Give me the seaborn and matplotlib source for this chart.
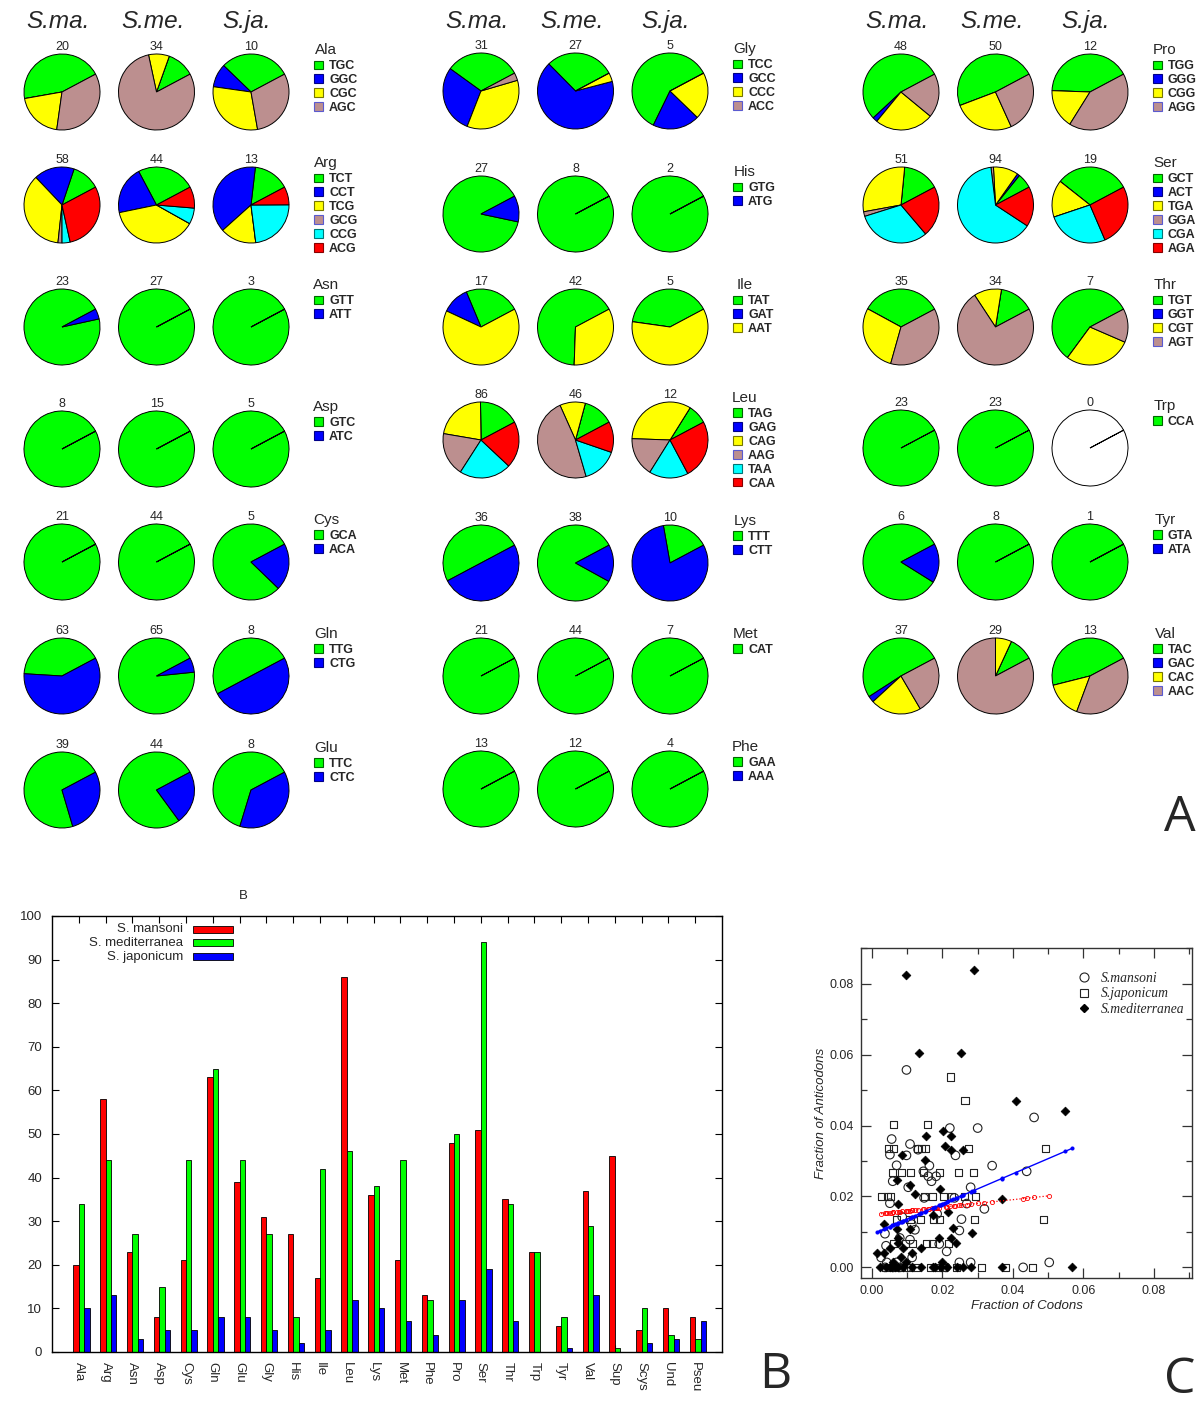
import numpy as np
import pandas as pd
import seaborn as sns
import matplotlib.pyplot as plt
from matplotlib.patches import Rectangle
from matplotlib.lines import Line2D
from matplotlib.ticker import FormatStrFormatter, MultipleLocator

sns.set_theme(style='white')
plt.rcParams['font.family'] = ['Liberation Sans', 'DejaVu Sans']

W, H = 1200, 1418

# ---------------- data ----------------
amino_acids = ['Ala', 'Arg', 'Asn', 'Asp', 'Cys', 'Gln', 'Glu',
               'Gly', 'His', 'Ile', 'Leu', 'Lys', 'Met', 'Phe',
               'Pro', 'Ser', 'Thr', 'Trp', 'Tyr', 'Val']
anticodons = [
    ['TGC', 'GGC', 'CGC', 'AGC'], ['TCT', 'CCT', 'TCG', 'GCG', 'CCG', 'ACG'],
    ['GTT', 'ATT'], ['GTC', 'ATC'], ['GCA', 'ACA'], ['TTG', 'CTG'], ['TTC', 'CTC'],
    ['TCC', 'GCC', 'CCC', 'ACC'], ['GTG', 'ATG'], ['TAT', 'GAT', 'AAT'],
    ['TAG', 'GAG', 'CAG', 'AAG', 'TAA', 'CAA'], ['TTT', 'CTT'], ['CAT'], ['GAA', 'AAA'],
    ['TGG', 'GGG', 'CGG', 'AGG'], ['GCT', 'ACT', 'TGA', 'GGA', 'CGA', 'AGA'],
    ['TGT', 'GGT', 'CGT', 'AGT'], ['CCA'], ['GTA', 'ATA'], ['TAC', 'GAC', 'CAC', 'AAC'],
]
sma_counts = [[9, 0, 4, 7], [7, 10, 21, 1, 2, 17], [22, 1], [8, 0], [21, 0], [26, 37], [28, 11],
              [10, 9, 11, 1], [24, 3], [4, 2, 11], [15, 0, 19, 16, 19, 17], [18, 18], [21], [13, 0],
              [26, 1, 12, 9], [8, 0, 15, 1, 16, 11], [12, 0, 10, 13], [23], [5, 1], [19, 1, 8, 9]]
sme_counts = [[4, 0, 3, 27], [11, 9, 17, 0, 3, 4], [27, 0], [15, 0], [44, 0], [61, 4], [34, 10],
              [8, 18, 1, 0], [8, 0], [28, 0, 14], [6, 0, 5, 22, 7, 6], [32, 6], [44], [12, 0],
              [24, 0, 13, 13], [6, 1, 10, 1, 60, 16], [5, 0, 4, 25], [23], [8, 0], [3, 0, 2, 24]]
sja_counts = [[3, 1, 3, 3], [2, 5, 2, 0, 3, 1], [3, 0], [5, 0], [4, 1], [4, 4], [5, 3],
              [3, 1, 1, 0], [2, 0], [2, 0, 3], [1, 0, 4, 2, 2, 3], [2, 8], [7], [4, 0],
              [5, 0, 2, 5], [6, 0, 3, 0, 5, 5], [4, 0, 2, 1], [0], [1, 0], [6, 0, 2, 5]]

extra_cats = ['Sup', 'Scys', 'Und', 'Pseu']
extra_sma = [45, 5, 10, 8]
extra_sme = [1, 10, 4, 3]
extra_sja = [0, 2, 3, 7]

species_full = ['S. mansoni', 'S. mediterranea', 'S. japonicum']
species_short = ['S.ma.', 'S.me.', 'S.ja.']

# panel C: fraction of codons vs fraction of anticodons
sma_x = [0.0098, 0.0460, 0.0221, 0.0300, 0.0056, 0.0108, 0.0131, 0.0051, 0.0098, 0.0237,
         0.0070, 0.0163, 0.0341, 0.0439, 0.0146, 0.0160, 0.0182, 0.0059, 0.0169, 0.0103,
         0.0280, 0.0051, 0.0148, 0.0234, 0.0269, 0.0319, 0.0185, 0.0086, 0.0254, 0.0113,
         0.0122, 0.0248, 0.0037, 0.0079, 0.0108, 0.0191, 0.0212, 0.0040, 0.0026, 0.0114,
         0.0042, 0.0070, 0.0248, 0.0280, 0.0503, 0.0037, 0.0060, 0.0078, 0.0100, 0.0210,
         0.0429]
sma_y = [0.0557, 0.0423, 0.0393, 0.0393, 0.0362, 0.0348, 0.0332, 0.0318, 0.0316, 0.0316,
         0.0288, 0.0287, 0.0287, 0.0271, 0.0271, 0.0257, 0.0257, 0.0243, 0.0243, 0.0226,
         0.0226, 0.0181, 0.0196, 0.0196, 0.0180, 0.0165, 0.0151, 0.0142, 0.0136, 0.0122,
         0.0106, 0.0104, 0.0095, 0.0083, 0.0078, 0.0066, 0.0045, 0.0061, 0.0028, 0.0028,
         0.0014, 0.0014, 0.0014, 0.0014, 0.0014, 0.0, 0.0, 0.0, 0.0, 0.0,
         0.0]
sja_x = [0.0223, 0.0264, 0.0061, 0.0157, 0.0493, 0.0046, 0.0062, 0.0129, 0.0140, 0.0152,
         0.0275, 0.0058, 0.0084, 0.0110, 0.0146, 0.0191, 0.0245, 0.0289, 0.0027, 0.0043,
         0.0053, 0.0150, 0.0172, 0.0204, 0.0226, 0.0262, 0.0294, 0.0070, 0.0108, 0.0138,
         0.0174, 0.0191, 0.0292, 0.0486, 0.0061, 0.0094, 0.0114, 0.0155, 0.0172, 0.0217,
         0.0040, 0.0060, 0.0084, 0.0110, 0.0125, 0.0165, 0.0185, 0.0200, 0.0240, 0.0310,
         0.0378, 0.0455]
sja_y = [0.0537, 0.0470, 0.0403, 0.0403, 0.0336, 0.0336, 0.0336, 0.0336, 0.0336, 0.0336,
         0.0336, 0.0268, 0.0268, 0.0268, 0.0268, 0.0268, 0.0268, 0.0268, 0.0200, 0.0200,
         0.0200, 0.0200, 0.0200, 0.0200, 0.0200, 0.0200, 0.0200, 0.0134, 0.0134, 0.0134,
         0.0134, 0.0134, 0.0134, 0.0134, 0.0067, 0.0067, 0.0067, 0.0067, 0.0067, 0.0067,
         0.0, 0.0, 0.0, 0.0, 0.0, 0.0, 0.0, 0.0, 0.0, 0.0,
         0.0, 0.0]
sme_x = [0.0096, 0.0289, 0.0133, 0.0254, 0.0408, 0.0549, 0.0202, 0.0224, 0.0152, 0.0207,
         0.0224, 0.0257, 0.0084, 0.0150, 0.0070, 0.0108, 0.0122, 0.0193, 0.0073, 0.0368,
         0.0217, 0.0174, 0.0035, 0.0070, 0.0108, 0.0231, 0.0283, 0.0191, 0.0075, 0.0224,
         0.0238, 0.0138, 0.0051, 0.0015, 0.0035, 0.0073, 0.0089, 0.0113, 0.0082, 0.0096,
         0.0061, 0.0198, 0.0022, 0.0040, 0.0050, 0.0058, 0.0066, 0.0075, 0.0088, 0.0115,
         0.0140, 0.0172, 0.0180, 0.0195, 0.0212, 0.0240, 0.0258, 0.0282, 0.0370, 0.0568]
sme_y = [0.0825, 0.0838, 0.0604, 0.0604, 0.0468, 0.0440, 0.0385, 0.0371, 0.0371, 0.0343,
         0.0330, 0.0330, 0.0316, 0.0302, 0.0247, 0.0233, 0.0207, 0.0221, 0.0180, 0.0193,
         0.0155, 0.0149, 0.0123, 0.0109, 0.0109, 0.0111, 0.0097, 0.0083, 0.0083, 0.0083,
         0.0069, 0.0055, 0.0055, 0.0040, 0.0040, 0.0069, 0.0055, 0.0040, 0.0028, 0.0014,
         0.0014, 0.0014, 0.0, 0.0, 0.0, 0.0, 0.0, 0.0, 0.0, 0.0,
         0.0, 0.0, 0.0, 0.0, 0.0, 0.0, 0.0, 0.0, 0.0, 0.0]
# linear fits (slope, intercept) shown in panel C
sma_fit = (0.106, 0.01486)
sme_fit = (0.4265, 0.00935)

# ---------------- style ----------------
slice_colors = ['#00ff00', '#0000ff', '#ffff00', '#bc8f8f', '#00ffff', '#ff0000']
key_edges = ['#006600', '#000088', '#777700', '#5a5ad0', '#007777', '#880000']
bar_colors = ['#ff0000', '#00ff00', '#0000ff']

fig = plt.figure(figsize=(W / 100, H / 100), dpi=100)

# ---------------- panel A: pies ----------------
ax_a = fig.add_axes([0, 1 - 850 / H, 1, 850 / H])
col_x = [62, 481, 901]
col_rows = [[92, 205, 327, 449, 562, 676, 790],
            [91, 214, 327, 440, 563, 676, 789],
            [92, 205, 327, 448, 562, 676]]
pie_dx = 94.5
radius = 38

aa_idx = 0
for x0, rows in zip(col_x, col_rows):
    for s, name in enumerate(species_short):
        ax_a.text(x0 + s * pie_dx - 4, 28, name, style='italic', fontsize=17.5,
                  ha='center', va='baseline')
    for y0 in rows:
        i = aa_idx
        aa_idx += 1
        for s, counts in enumerate([sma_counts[i], sme_counts[i], sja_counts[i]]):
            cx = x0 + s * pie_dx
            total = sum(counts)
            vals = counts if total > 0 else [1]
            cols = slice_colors[:len(counts)] if total > 0 else ['white']
            wedges, _ = ax_a.pie(vals, colors=cols, center=(cx, y0), radius=radius,
                                 startangle=-28, counterclock=False,
                                 wedgeprops=dict(edgecolor='black', linewidth=0.7))
            for w in wedges:
                if abs((w.theta2 - w.theta1) - 360) < 1e-6:
                    w.set_theta1(w.theta1 + 0.001)
            ax_a.text(cx, y0 - 42, str(total), fontsize=9, ha='center', va='baseline')
        # key
        lx = x0 + 2 * pie_dx
        ax_a.text(lx + 75, y0 - 38, amino_acids[i], fontsize=11, ha='center', va='baseline')
        for k, ac in enumerate(anticodons[i]):
            by = y0 - 22.7 + 13.9 * k
            ax_a.add_patch(Rectangle((lx + 63, by - 8.8), 8.5, 8.5, facecolor=slice_colors[k],
                                     edgecolor=key_edges[k], lw=0.8))
            ax_a.text(lx + 78, by, ac, fontsize=9, fontweight='bold', va='baseline')

ax_a.set_xlim(0, W)
ax_a.set_ylim(850, 0)
ax_a.set_aspect('equal')
ax_a.axis('off')

# ---------------- panel B: bars ----------------
bar_cats = amino_acids + extra_cats
tot_sma = [sum(c) for c in sma_counts] + extra_sma
tot_sme = [sum(c) for c in sme_counts] + extra_sme
tot_sja = [sum(c) for c in sja_counts] + extra_sja
df = pd.DataFrame({
    'cat': bar_cats * 3,
    'species': [species_full[0]] * 24 + [species_full[1]] * 24 + [species_full[2]] * 24,
    'n': tot_sma + tot_sme + tot_sja,
})

ax_b = fig.add_axes([52 / W, 1 - 1352 / H, 670 / W, 436 / H])
sns.barplot(data=df, x='cat', y='n', hue='species', hue_order=species_full,
            palette=bar_colors, width=0.6, saturation=1, edgecolor='black',
            linewidth=0.6, legend=False, ax=ax_b)
ax_b.set_xlim(-1.1, 23.9)
ax_b.set_ylim(0, 100)
ax_b.set_xticks(np.arange(24) - 0.1)
ax_b.set_xticklabels(bar_cats, rotation=-90, ha='center', va='top')
ax_b.set_yticks(np.arange(0, 101, 10))
ax_b.set_xlabel('')
ax_b.set_ylabel('')
ax_b.tick_params(which='both', direction='in', top=True, right=True, bottom=True, left=True,
                 length=5, width=0.8, color='black', labelsize=9.5, pad=7)
for sp in ax_b.spines.values():
    sp.set_color('black')
    sp.set_linewidth(1.0)

# key in gnuplot style: right-aligned names followed by a long swatch
key_rows = [0.970, 0.939, 0.907]
for name, col, ky in zip(species_full, bar_colors, key_rows):
    ax_b.text(0.1955, ky, name, transform=ax_b.transAxes, ha='right', va='center',
              fontsize=9.5)
    ax_b.add_patch(Rectangle((0.2104, ky - 0.008), 0.0597, 0.016, transform=ax_b.transAxes,
                             facecolor=col, edgecolor='black', lw=0.6))

fig.text(243 / W, 1 - 896 / H, 'B', fontsize=9.5, ha='center', va='center')

# ---------------- panel C: scatter ----------------
ax_c = fig.add_axes([861 / W, 1 - 1278 / H, 331 / W, 330 / H])
sns.scatterplot(x=sma_x, y=sma_y, marker='o', s=38, facecolor='none', edgecolor='#222222',
                linewidth=0.8, ax=ax_c)
sns.scatterplot(x=sja_x, y=sja_y, marker='s', s=26, facecolor='none', edgecolor='#222222',
                linewidth=0.8, ax=ax_c)
sns.scatterplot(x=sme_x, y=sme_y, marker='D', s=20, color='black', edgecolor='black',
                linewidth=0.5, ax=ax_c)

xs = np.sort(np.array(sma_x))
sns.lineplot(x=xs, y=sma_fit[0] * xs + sma_fit[1], color='red', linestyle=':', linewidth=0.9,
             marker='o', markersize=3, markerfacecolor='none', markeredgecolor='red',
             markeredgewidth=0.6, ax=ax_c)
xs = np.sort(np.array(sme_x))
sns.lineplot(x=xs, y=sme_fit[0] * xs + sme_fit[1], color='blue', linewidth=1.0,
             marker='o', markersize=2.2, markeredgecolor='blue', ax=ax_c)

ax_c.set_xlim(-0.0031, 0.0908)
ax_c.set_ylim(-0.0030, 0.0901)
ax_c.xaxis.set_major_locator(MultipleLocator(0.02))
ax_c.xaxis.set_minor_locator(MultipleLocator(0.01))
ax_c.yaxis.set_major_locator(MultipleLocator(0.02))
ax_c.yaxis.set_minor_locator(MultipleLocator(0.01))
ax_c.xaxis.set_major_formatter(FormatStrFormatter('%.2f'))
ax_c.yaxis.set_major_formatter(FormatStrFormatter('%.2f'))
ax_c.tick_params(which='both', direction='in', top=True, right=True, bottom=True, left=True,
                 color='#333333', labelsize=9, pad=5)
ax_c.tick_params(which='major', length=7, width=0.9)
ax_c.tick_params(which='minor', length=4, width=0.9)
for sp in ax_c.spines.values():
    sp.set_color('#333333')
    sp.set_linewidth(1.0)
ax_c.set_xlabel('Fraction of Codons', style='italic', fontsize=9.5, labelpad=2)
ax_c.set_ylabel('Fraction of Anticodons', style='italic', fontsize=9.5, labelpad=2)

c_handles = [
    Line2D([], [], ls='none', marker='o', ms=6.5, mfc='none', mec='#222222', mew=0.8),
    Line2D([], [], ls='none', marker='s', ms=5.5, mfc='none', mec='#222222', mew=0.8),
    Line2D([], [], ls='none', marker='D', ms=4.5, mfc='black', mec='black'),
]
ax_c.legend(c_handles, ['S.mansoni', 'S.japonicum', 'S.mediterranea'], loc='upper right',
            bbox_to_anchor=(0.995, 0.945), frameon=False, borderaxespad=0,
            handletextpad=0.7, labelspacing=0.2, handlelength=1.2,
            prop=dict(family=['Liberation Serif', 'DejaVu Serif'], style='italic', size=9.8))

# panel letters
for letter, (px, py) in zip('ABC', [(1180, 818), (775, 1375), (1180, 1380)]):
    fig.text(px / W, 1 - py / H, letter, fontsize=36, ha='center', va='center',
             family=['Open Sans', 'DejaVu Sans'])

fig.savefig('out.png', dpi=100)
